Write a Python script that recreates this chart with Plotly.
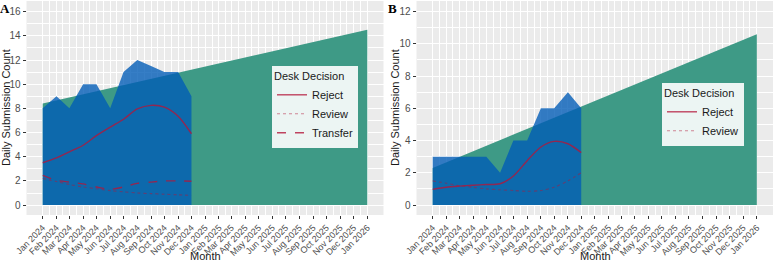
import plotly.graph_objects as go
import pandas as pd

# ---------------- data ----------------
months = ["2024-01-01", "2024-02-01", "2024-03-01", "2024-04-01", "2024-05-01", "2024-06-01",
          "2024-07-01", "2024-08-01", "2024-09-01", "2024-10-01", "2024-11-01", "2024-12-01"]
trend_dates = ["2024-01-01", "2026-01-01"]

# Panel A
a_daily = [8, 9, 8, 10, 10, 8, 11, 12, 11.5, 11, 11, 9]
a_trend = [8.4, 14.5]
a_reject = [3.5, 3.9, 4.4, 4.95, 5.75, 6.45, 7.1, 7.95, 8.25, 8.1, 7.35, 5.9]
a_review = [2.2, 1.95, 1.7, 1.5, 1.35, 1.2, 1.1, 1.0, 0.95, 0.9, 0.85, 0.8]
a_transfer = [2.45, 2.05, 1.9, 1.75, 1.5, 1.3, 1.5, 1.8, 1.9, 2.0, 2.0, 1.97]

# Panel B
b_daily = [3, 3, 3, 3, 3, 2, 4, 4, 6, 6, 7, 6]
b_trend = [2.3, 10.6]
b_reject = [0.97, 1.1, 1.17, 1.23, 1.27, 1.32, 1.8, 2.75, 3.6, 3.95, 3.8, 3.25]
b_review = [1.5, 1.35, 1.2, 1.1, 1.0, 0.95, 0.9, 0.85, 0.9, 1.1, 1.5, 2.0]

tick_labels = ["Jan 2024", "Feb 2024", "Mar 2024", "Apr 2024", "May 2024", "Jun 2024", "Jul 2024",
               "Aug 2024", "Sep 2024", "Oct 2024", "Nov 2024", "Dec 2024", "Jan 2025", "Feb 2025",
               "Mar 2025", "Apr 2025", "May 2025", "Jun 2025", "Jul 2025", "Aug 2025", "Sep 2025",
               "Oct 2025", "Nov 2025", "Dec 2025", "Jan 2026"]
a_yticks = [0, 2, 4, 6, 8, 10, 12, 14, 16]
b_yticks = [0, 2, 4, 6, 8, 10, 12]

# ---------------- styling ----------------
W, H = 775, 263
GREEN = "rgb(62,154,134)"
BLUE = "rgba(0,91,183,0.79)"
LINE = "rgba(180,22,58,0.8)"
REVIEW = "rgba(180,22,58,0.5)"
FONT = "Liberation Sans, Arial, sans-serif"

tick_dates = pd.date_range("2024-01-01", "2026-01-01", freq="MS")
minor_dates = [d + (n - d) / 2 for d, n in zip(tick_dates[:-1], tick_dates[1:])]
pad = pd.Timedelta(days=36.5)
xrange = [tick_dates[0] - pad, tick_dates[-1] + pad]

fig = go.Figure()


def add_panel(xa, ya, legend, daily, trend, lines):
    fig.add_trace(go.Scatter(x=trend_dates, y=trend, mode="lines", fill="tozeroy",
                             fillcolor=GREEN, line=dict(width=0), showlegend=False,
                             xaxis=xa, yaxis=ya, hoverinfo="skip"))
    fig.add_trace(go.Scatter(x=months, y=daily, mode="lines", fill="tozeroy",
                             fillcolor=BLUE, line=dict(width=0), showlegend=False,
                             xaxis=xa, yaxis=ya, hoverinfo="skip"))
    for name, vals, dash, width, col in lines:
        fig.add_trace(go.Scatter(x=months, y=vals, mode="lines", name=name,
                                 line=dict(color=col, dash=dash, width=width, shape="spline",
                                           smoothing=0.8),
                                 xaxis=xa, yaxis=ya, legend=legend))


add_panel("x", "y", "legend", a_daily, a_trend, [
    ("Reject", a_reject, "solid", 1.4, LINE),
    ("Review", a_review, "dot", 1.1, REVIEW),
    ("Transfer", a_transfer, "dash", 1.4, LINE),
])
add_panel("x2", "y2", "legend2", b_daily, b_trend, [
    ("Reject", b_reject, "solid", 1.4, LINE),
    ("Review", b_review, "dot", 1.1, REVIEW),
])

ydom = [1 - 215 / H, 1 - 1 / H]


def xaxis(dom, anchor):
    return dict(domain=dom, anchor=anchor, type="date", range=xrange, tickmode="array",
                tickvals=list(tick_dates), ticktext=tick_labels, tickangle=-45,
                tickfont=dict(size=9, color="#4d4d4d", family=FONT),
                ticks="outside", ticklen=3, tickcolor="#333333",
                showgrid=True, gridcolor="white", gridwidth=1,
                minor=dict(tickmode="array", tickvals=minor_dates, showgrid=True,
                           gridcolor="white", gridwidth=0.5, ticks=""),
                showline=False, zeroline=False, automargin=False)


def yaxis(rng, ticks, anchor):
    minor_vals = [t + 1 for t in ticks[:-1]]
    return dict(domain=ydom, range=rng, tickmode="array", tickvals=ticks, anchor=anchor,
                tickfont=dict(size=10, color="#4d4d4d", family=FONT),
                ticks="outside", ticklen=3, tickcolor="#333333",
                showgrid=True, gridcolor="white", gridwidth=1,
                minor=dict(tickmode="array", tickvals=minor_vals, showgrid=True,
                           gridcolor="white", gridwidth=0.5, ticks=""),
                showline=False, zeroline=False, automargin=False)


legend_common = dict(bgcolor="rgba(255,255,255,0.9)", borderwidth=0,
                     font=dict(size=11, color="#1a1a1a", family=FONT),
                     title=dict(text="Desk Decision", font=dict(size=11, color="#1a1a1a", family=FONT)),
                     xanchor="left", yanchor="top", itemwidth=30, tracegroupgap=0)

fig.update_layout(
    width=W, height=H, margin=dict(l=0, r=0, t=0, b=0),
    paper_bgcolor="white", plot_bgcolor="#ebebeb",
    font=dict(family=FONT),
    xaxis=xaxis([26.5 / W, 383.5 / W], "y"),
    yaxis=yaxis([-0.82, 16.88], a_yticks, "x"),
    xaxis2=xaxis([416.5 / W, 773 / W], "y2"),
    yaxis2=yaxis([-0.62, 12.66], b_yticks, "x2"),
    legend=dict(x=272 / W, y=1 - 66 / H, **legend_common),
    legend2=dict(x=662 / W, y=1 - 83 / H, **legend_common),
)

ann = []
for cx, label in [(205, "Month"), (595, "Month")]:
    ann.append(dict(x=cx / W, y=1 - 256 / H, text=label,
                    font=dict(size=11, color="#1a1a1a", family=FONT)))
for cx in [6, 395]:
    ann.append(dict(x=cx / W, y=1 - 108 / H, text="Daily Submission Count", textangle=-90,
                    font=dict(size=11, color="#1a1a1a", family=FONT)))
for cx, lab in [(5, "A"), (392, "B")]:
    ann.append(dict(x=cx / W, y=1 - 9 / H, text="<b>" + lab + "</b>",
                    font=dict(size=13, color="black", family="Liberation Serif, Times New Roman, serif")))
for a in ann:
    a.update(xref="paper", yref="paper", xanchor="center", yanchor="middle", showarrow=False)
fig.update_layout(annotations=ann)

fig.write_html("out.html", config={"displayModeBar": False},
               post_script="document.body.style.margin='0';document.body.style.overflow='hidden';")
